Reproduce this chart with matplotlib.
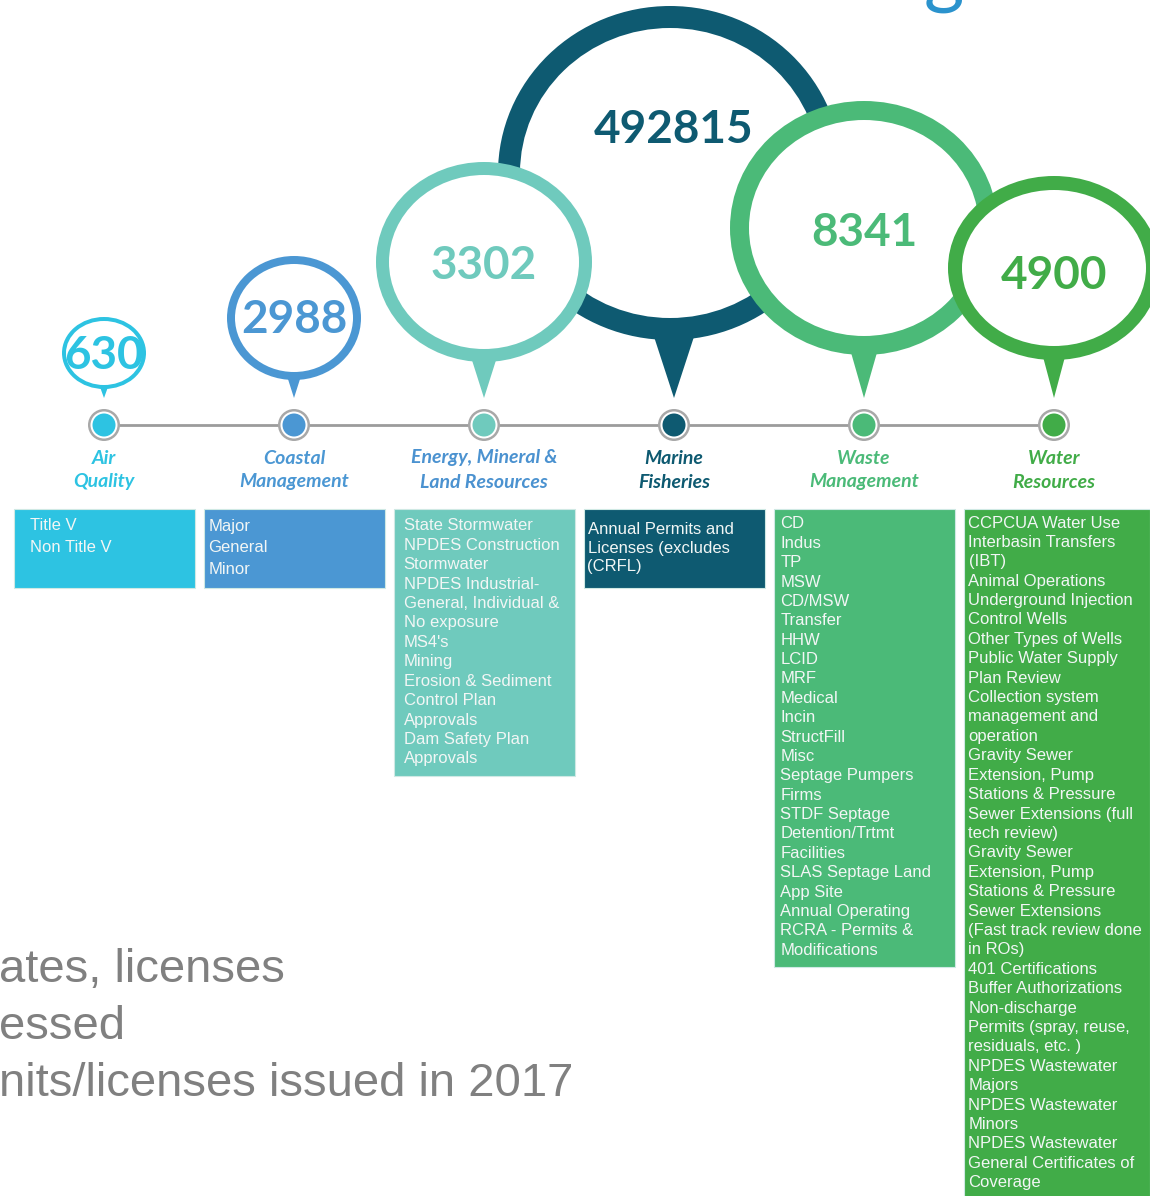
import matplotlib
matplotlib.use("Agg")
import matplotlib.pyplot as plt
from matplotlib.patches import Ellipse, Polygon, Circle, Rectangle

# divisions and the number of permits/licenses issued in 2017
divisions = ["Air\nQuality", "Coastal\nManagement", "Energy, Mineral &\nLand Resources",
             "Marine\nFisheries", "Waste\nManagement", "Water\nResources"]
permits_2017 = [630, 2988, 3302, 492815, 8341, 4900]

permit_types = [
    ["Title V", "Non Title V"],
    ["Major", "General", "Minor"],
    ["State Stormwater", "NPDES Construction", "Stormwater", "NPDES Industrial-",
     "General, Individual &", "No exposure", "MS4's", "Mining", "Erosion & Sediment",
     "Control Plan", "Approvals", "Dam Safety Plan", "Approvals"],
    ["Annual Permits and", "Licenses (excludes", "(CRFL)"],
    ["CD", "Indus", "TP", "MSW", "CD/MSW", "Transfer", "HHW", "LCID", "MRF", "Medical",
     "Incin", "StructFill", "Misc", "Septage Pumpers", "Firms", "STDF Septage",
     "Detention/Trtmt", "Facilities", "SLAS Septage Land", "App Site", "Annual Operating",
     "RCRA - Permits &", "Modifications"],
    ["CCPCUA Water Use", "Interbasin Transfers", "(IBT)", "Animal Operations",
     "Underground Injection", "Control Wells", "Other Types of Wells", "Public Water Supply",
     "Plan Review", "Collection system", "management and", "operation", "Gravity Sewer",
     "Extension, Pump", "Stations & Pressure", "Sewer Extensions (full", "tech review)",
     "Gravity Sewer", "Extension, Pump", "Stations & Pressure", "Sewer Extensions",
     "(Fast track review done", "in ROs)", "401 Certifications", "Buffer Authorizations",
     "Non-discharge", "Permits (spray, reuse,", "residuals, etc. )", "NPDES Wastewater",
     "Majors", "NPDES Wastewater", "Minors", "NPDES Wastewater",
     "General Certificates of", "Coverage"],
]

footer_lines = ["ates, licenses", "essed", "nits/licenses issued in 2017"]

# styles
colors = ["#2DC3E2", "#4B97D3", "#6FCABD", "#0E5A71", "#4BBA78", "#41AC48"]
label_colors = ["#2DC3E2", "#4B97D3", "#4B92D0", "#0E5A71", "#4BBA78", "#41AC48"]

# layout (pixels)
x0, step, node_y, tip_y = 104, 190, 425, 398
bubble_cx_shift = [0, 0, 0, -4, 0, 0]
bubble_cy = [353, 318, 262, 173, 228, 268]
bubble_rx = [42, 67, 108, 172, 134, 106]
bubble_ry = [36, 62, 100, 167, 127, 92]
ring_w = [4, 8, 13, 22, 19, 14]
tail_w = [8, 14, 27, 45, 30, 24]
num_y = [353, 317, 263, 127, 230, 273]
draw_order = [0, 1, 3, 2, 4, 5]
box_w = [181, 181, 181, 181, 181, 186]
first_line = [524, 524, 524, 527, 522, 521]
line_gap = [22, 22, 19.4, 19, 19.37, 19.4]
indent = [17, 5, 10, 4, 7, 5]

fig = plt.figure(figsize=(11.5, 11.96), dpi=100)
ax = fig.add_axes([0, 0, 1, 1])
ax.set_xlim(0, 1150)
ax.set_ylim(1196, 0)
ax.axis("off")

xs = [x0 + step * i for i in range(len(divisions))]

# cut-off heading letter at the top
ax.text(944, -2, "g", ha="center", va="baseline", fontsize=56, family="Lato", color="#2B93CD")

# bubbles
z = 2
for i in draw_order:
    cx, cy, rx, ry, rw = xs[i], bubble_cy[i], bubble_rx[i], bubble_ry[i], ring_w[i]
    top = cy + ry - rw / 2
    ax.add_patch(Polygon([(cx - tail_w[i] / 2, top), (cx + tail_w[i] / 2, top), (cx, tip_y)],
                         closed=True, fc=colors[i], ec="none", zorder=z))
    ex = cx + bubble_cx_shift[i]
    ax.add_patch(Ellipse((ex, cy), 2 * rx, 2 * ry, fc=colors[i], ec="none", zorder=z + 0.1))
    ax.add_patch(Ellipse((ex, cy), 2 * (rx - rw), 2 * (ry - rw), fc="white", ec="none", zorder=z + 0.2))
    z += 1

for i, v in enumerate(permits_2017):
    ax.text(xs[i], num_y[i] + 16, str(v), ha="center", va="baseline", fontsize=33,
            fontweight="bold", family="Lato", color=colors[i], zorder=20)

# timeline
ax.plot([xs[0], xs[-1]], [node_y, node_y], color="#9c9c9c", lw=2, zorder=1)
for i, c in enumerate(colors):
    ax.add_patch(Circle((xs[i], node_y), 16, fc="#a8a8a8", ec="none", zorder=10))
    ax.add_patch(Circle((xs[i], node_y), 13.5, fc="white", ec="none", zorder=11))
    ax.add_patch(Circle((xs[i], node_y), 11.5, fc=c, ec="none", zorder=12))
    for j, line in enumerate(divisions[i].split("\n")):
        ax.text(xs[i], 458 + 24 * j, line, ha="center", va="center", fontsize=14,
                fontweight="bold", fontstyle="italic", family="Lato", color=label_colors[i])

# permit type boxes
for i, items in enumerate(permit_types):
    left = xs[i] - 90.5
    last = first_line[i] + line_gap[i] * (len(items) - 1)
    bottom = max(588, last + 19)
    ax.add_patch(Rectangle((left, 509), box_w[i], bottom - 509, fc=colors[i],
                           ec="#cfe9e4", lw=0.8, zorder=3))
    for j, item in enumerate(items):
        ax.text(left + indent[i], first_line[i] + line_gap[i] * j + 6.5, item, ha="left",
                va="baseline", fontsize=12, family="Liberation Sans", color="#f2f6f5", zorder=4)

# footer text (cut off at the left edge)
for j, line in enumerate(footer_lines):
    ax.text(-1, 982 + 57 * j, line, ha="left", va="baseline", fontsize=34,
            family="Liberation Sans", color="#808080")

fig.savefig("out.png", dpi=100, facecolor="white")
